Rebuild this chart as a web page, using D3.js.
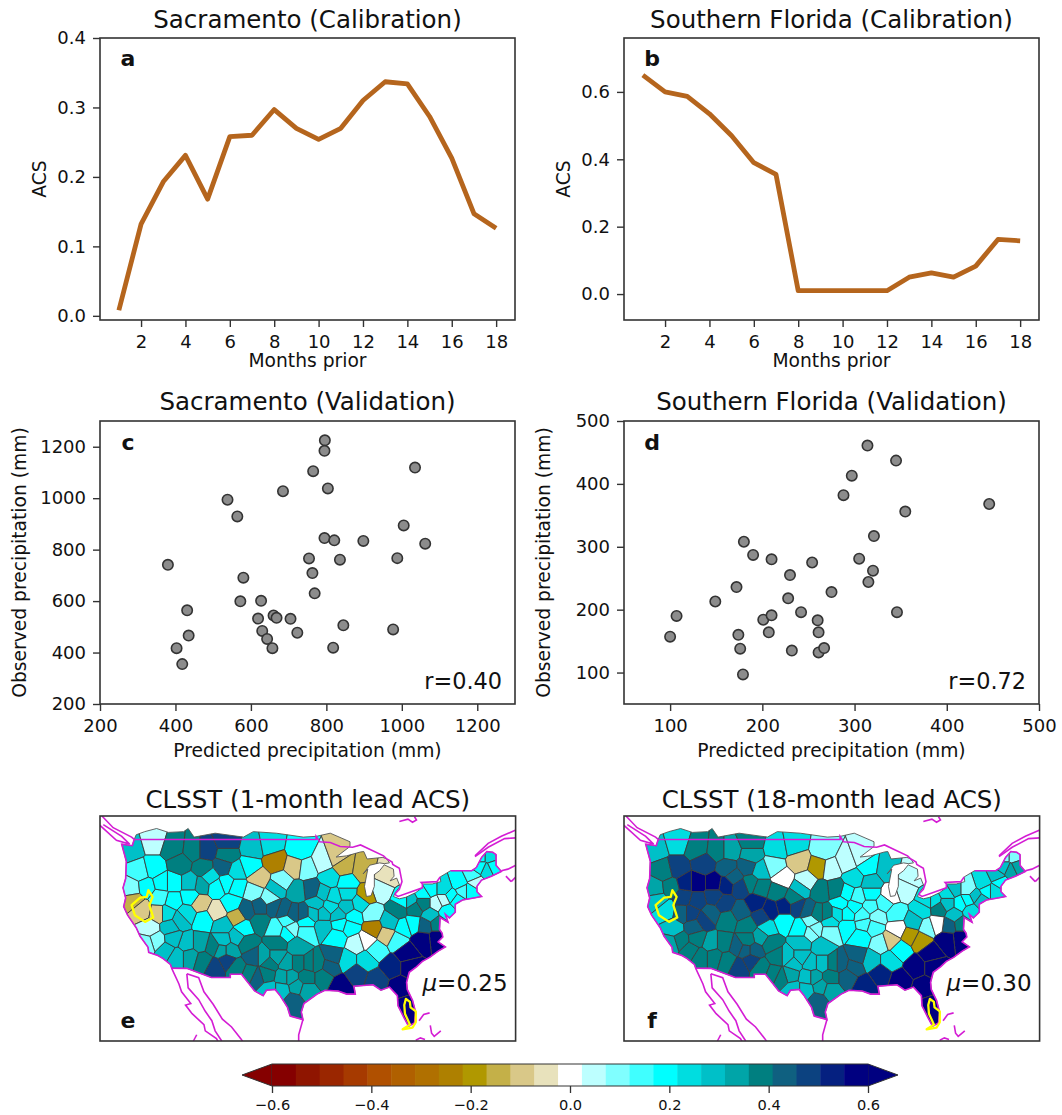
<!DOCTYPE html>
<html>
<head>
<meta charset="utf-8">
<script src="https://cdn.jsdelivr.net/npm/d3@7"></script>
<style>
  body { margin: 0; background: #fff; }
  text { font-family: "DejaVu Sans", sans-serif; fill: #111; }
</style>
</head>
<body>
<svg id="fig" width="1062" height="1115"></svg>
<script>
// ---- line panels
const months = d3.range(1, 19);
const acsSacramento = [0.008, 0.132, 0.193, 0.231, 0.168, 0.258, 0.26, 0.297, 0.27, 0.254, 0.27, 0.31, 0.337, 0.334, 0.287, 0.227, 0.147, 0.126];
const acsFlorida = [0.65, 0.6, 0.587, 0.535, 0.47, 0.39, 0.355, 0.01, 0.01, 0.01, 0.01, 0.01, 0.05, 0.063, 0.05, 0.083, 0.162, 0.158];

// ---- scatter panels
const sacPredicted = [380, 431, 435, 403, 418, 538, 564, 580, 572, 627, 619, 660, 668, 705, 723, 630, 643, 657, 685, 765, 796, 795, 804, 795, 821, 898, 754, 836, 763, 769, 845, 818, 977, 988, 1005, 1062, 1035];
const sacObserved = [741, 564, 466, 417, 355, 994, 929, 691, 599, 601, 532, 544, 535, 531, 477, 484, 453, 417, 1027, 1105, 1225, 1184, 1038, 845, 836, 834, 766, 761, 709, 630, 506, 419, 490, 767, 894, 823, 1119];
const flaPredicted = [100, 107, 149, 172, 180, 190, 210, 174, 176, 179, 201, 210, 207, 230, 228, 242, 232, 254, 260, 261, 261, 267, 275, 288, 297, 314, 305, 320, 315, 321, 345, 355, 346, 446];
const flaObserved = [157, 190, 213, 236, 308, 287, 280, 160, 138, 97, 184, 191, 164, 255, 218, 196, 135, 275, 183, 164, 132, 139, 228, 382, 413, 461, 281, 262, 244, 317, 437, 356, 196, 368];

// ---- colour bar
const barColors = ["#850000", "#8f1500", "#9a2600", "#a63a00", "#b05000", "#b06000", "#b07000", "#ae8000", "#b09800", "#c4b048", "#d9c888", "#e8e2bc", "#ffffff", "#bdffff", "#80ffff", "#40ffff", "#00ffff", "#00dde0", "#00c0c8", "#00a5a8", "#007f80", "#0f6080", "#0c4280", "#052080", "#000080"];
const barTicks = [-0.6, -0.4, -0.2, 0, 0.2, 0.4, 0.6];

// ---- basin centres (lon, lat) and ACS
const basinLon = [-123.2, -119.9, -121.9, -119.9, -123.2, -116.9, -116.9, -115.8, -113.8, -111.8, -108.75, -108.75, -112.3, -109.3, -112.55, -107.2, -108.75, -104.7, -102.2, -97.6, -105.2, -101.4, -98.4, -103.9, -100.4, -96.6, -94.1, -92, -91, -93, -88, -84.4, -85.45, -87.5, -90.5, -94.1, -95.8, -98.1, -101.15, -104.7, -107.2, -102.2,
  -122.9, -121.7, -119.1, -116.9, -120.4, -115.8, -112.8, -114.3, -112.3, -110.2, -108, -107.2, -109.3, -106.2, -103.7, -100.1, -97.1, -103.7, -99.6, -96.6, -99.6, -95.1, -93, -90.5, -94.1, -91.5, -92, -89.5, -86.7, -89, -87.5, -86.5, -84.4, -86, -82.9, -81.9, -83.9, -82.7, -80.1, -78.6, -80.4, -76.8, -78.9, -74.6, -76.8, -73.3, -71.3, -71.8, -68.7, -69.2, -75.8, -71, -77.8, -81.9,
  -78.9, -76.8, -81.4, -83.7, -80.9, -82.4, -81.4, -86, -89, -91.5, -90.5, -87.5, -92.5, -95.1, -97.9, -101.15, -103.2, -99.6, -96.6, -100.1, -102.7, -104.7, -104.2, -98.6, -102.2, -98.1,
  -119.4, -117.4, -117.9, -114.8, -114.3, -110.8, -107.2, -108.2, -110.5, -108.75, -107.2, -112.3,
  -101.15, -97.9, -99.1, -96.1, -102.2, -105.2, -100.4, -96.6, -94.05, -93,
  -105.7, -101.65, -98.6, -99.1, -96.6, -101.15, -94.05, -91.8, -95.6, -88.5, -90.5, -92.5, -90,
  -80.9, -78.9, -77.8, -75.3, -73.8, -72.8, -70.25, -68.2, -70.25, -75.8,
  -120.9, -118.9, -118.6, -114.3, -110.3, -111.3, -114.8, -117.9, -120.9, -116.35, -112.8, -109.3, -116.9, -105.7, -109.5];
const basinLat = [47.9, 48.7, 44.9, 45.3, 42.7, 43.4, 47.9, 45.9, 47.6, 47.6, 48.7, 47, 45.3, 45.5, 43.15, 44.9, 43.4, 47.9, 48.3, 47.6, 45.5, 46.15, 45.5, 44, 43.6, 45.3, 46.15, 46.8, 45.5, 44, 45.1, 44.45, 42.5, 41.9, 43.4, 42.1, 42.5, 42.3, 42.7, 42.3, 42.9, 41.45,
  41.2, 39.95, 39.5, 41.2, 37.6, 38.7, 40.8, 41.7, 38.7, 39.75, 40.8, 39.1, 38, 37.6, 40.4, 39.95, 39.5, 38.45, 38.45, 38.45, 37.2, 40.8, 40.4, 40.4, 37.8, 38.2, 36.5, 39.1, 39.5, 35.7, 36.1, 37.6, 36.75, 34.8, 36.1, 37.8, 38.45, 39.95, 40.16, 38, 38.2, 40.8, 42.1, 41.7, 38.2, 43.4, 44.2, 42.5, 46.8, 45.1, 42.7, 43.6, 42.7, 41.2,
  36.1, 36.3, 34.4, 32.7, 32.7, 30.1, 27.6, 31, 31.8, 30.3, 33.5, 33.5, 34, 33.1, 35.25, 35.7, 34, 33.1, 31.4, 31.4, 31.8, 34, 31.4, 28.4, 29.7, 30.1,
  36.1, 37.8, 34.8, 35.7, 34, 35.25, 36.5, 34.8, 32.7, 33.5, 32.5, 33.5,
  33.97, 33.1, 31.4, 33.1, 33.1, 31.8, 29.7, 29.7, 31.4, 32.7,
  39.95, 40.4, 39.5, 37.6, 37.2, 37.6, 39.5, 39.3, 39.5, 40.8, 42.1, 41.65, 37.8,
  41.2, 40.8, 39.3, 39.95, 41.2, 42.5, 45.5, 45.5, 46.8, 41.2,
  42.9, 41.65, 43.4, 43.4, 42.9, 44.2, 39.5, 39.5, 35.7, 34, 35.7, 36.1, 36.3, 35.7, 34.8];
const acsLead1 = [0.3, 0.07, 0.15, 0.2, 0.08, 0.2, 0.38, 0.38, 0.38, 0.5, 0.5, 0.38, 0.38, 0.43, 0.34, 0.22, 0.2, 0.3, 0.25, 0.18, 0.2, -0.24, -0.1, -0.12, 0.1, 0.1, 0.05, -0.08, -0.14, 0.22, -0.16, -0.07, 0.07, -0.17, 0.2, 0.3, 0.45, 0.34, 0.3, 0.1, 0.18, 0.08,
  -0.14, -0.1, -0.1, 0.18, 0.07, 0.27, -0.12, 0.2, 0.18, -0.05, 0.2, -0.14, 0.28, 0.2, 0.45, 0.45, 0.45, 0.38, 0.12, 0.2, 0.2, 0.3, 0.22, 0.3, 0.28, 0.2, 0.2, 0.18, 0.1, 0.06, 0, -0.22, -0.12, 0.15, 0.12, 0.2, 0.3, 0.38, 0.4, 0.42, 0.2, 0.07, 0.2, 0.2, 0.38, 0.2, 0.15, 0.2, 0.24, 0.22, 0.24, 0.07, 0.2, 0.2,
  0.58, 0.58, 0.58, 0.55, 0.58, 0.58, 0.58, 0.48, 0.48, 0.58, 0.25, 0.24, 0.43, 0.38, 0.33, 0.38, 0.34, 0.34, 0.38, 0.34, 0.4, 0.43, 0.43, 0.45, 0.3, 0.34,
  0.1, 0.3, 0.28, 0.3, 0.34, 0.4, 0.28, 0.34, 0.5, 0.5, 0.38, 0.4,
  0.34, 0.38, 0.34, 0.38, 0.38, 0.4, 0.3, 0.34, 0.4, 0.43,
  0.45, 0.45, 0.45, 0.1, 0.15, 0.12, 0.3, 0.3, 0.28, 0.22, 0.25, 0.25, 0.2,
  0.3, 0.4, 0.3, 0.2, 0.2, 0.12, 0.2, 0.2, 0.2, 0.07,
  0.2, 0.15, 0.2, 0.3, 0.2, 0.24, 0.25, 0.25, 0.1, 0.3, 0.34, 0.3, 0.3, 0.4, 0.34];
const acsLead18 = [0.3, 0.22, 0.38, 0.5, 0.34, 0.58, 0.38, 0.48, 0.38, 0.34, 0.38, 0.34, 0.43, 0.43, 0.55, 0.3, 0.38, 0.24, 0.22, 0.08, 0.08, -0.12, -0.18, 0, 0.07, 0.05, 0.07, 0.07, 0.2, 0.26, 0.3, 0.07, 0.05, 0, 0.28, 0.18, 0.38, 0.38, 0.3, 0.38, 0.38, 0.38,
  0.3, 0.25, 0.45, 0.5, 0.3, 0.5, 0.48, 0.48, 0.38, 0.43, 0.55, 0.5, 0.4, 0.22, 0.55, 0.42, 0.38, 0.18, 0.08, 0.22, 0.1, 0.2, 0.17, 0.15, 0.18, 0.14, 0.18, 0.1, 0.12, 0.08, -0.12, 0, -0.2, 0.17, -0.18, 0.08, 0.28, 0.25, 0.38, 0.42, 0, 0.2, 0.22, 0.28, 0.38, 0.24, 0.28, 0.25, 0.08, 0.35, 0.08, 0.2, 0.3, 0.22,
  0.58, 0.58, 0.58, 0.58, 0.58, 0.58, 0.58, 0.58, 0.55, 0.53, 0.3, 0.22, 0.43, 0.43, 0.28, 0.3, 0.3, 0.3, 0.38, 0.3, 0.34, 0.38, 0.38, 0.43, 0.3, 0.33,
  0.38, 0.45, 0.38, 0.34, 0.4, 0.43, 0.34, 0.43, 0.48, 0.48, 0.38, 0.4,
  0.3, 0.3, 0.33, 0.38, 0.3, 0.38, 0.3, 0.34, 0.43, 0.43,
  0.55, 0.5, 0.38, 0.08, 0.1, 0.2, 0.2, 0.15, 0.25, 0.12, 0.2, 0.15, 0.12,
  0.25, 0.3, 0.3, 0.25, 0.28, 0.2, 0.3, 0.35, 0.1, 0.2,
  0.4, 0.5, 0.55, 0.58, 0.5, 0.45, 0.45, 0.48, 0.34, 0.38, 0.4, 0.38, 0.4, 0.38, 0.45];

// ---- outlines (lon, lat)
const northEdge = [[-122.8, 49], [-122.5, 49.6], [-121.2, 50], [-119.4, 50.4], [-117.6, 49.9], [-115.3, 50], [-114.6, 50.4], [-113.7, 49.3], [-110.5, 49.8], [-106.2, 49.3], [-104.7, 50], [-101.2, 49.8], [-97.1, 49.3], [-95.1, 49.4], [-93, 49.8], [-90, 48.7]];
const lakeShore = [[-90, 48.1], [-92.1, 46.75], [-90.5, 46.9], [-88.4, 47.4], [-87.9, 47.45], [-87.4, 46.5], [-85, 46.7], [-84.4, 46.5], [-84, 46], [-84.8, 45.9], [-85.5, 46], [-87, 45.7], [-88, 44.6], [-87.3, 45.2], [-87.8, 43], [-87.5, 41.7], [-86.8, 41.8], [-86.3, 43], [-86.3, 44.5], [-85.5, 45], [-84.8, 45.75], [-83.4, 45.2], [-83.3, 44.3], [-83.9, 43.7], [-82.9, 44.05], [-82.4, 43], [-83.1, 42.2], [-83.4, 41.7], [-82.5, 41.4], [-81.5, 41.6], [-80, 42.2], [-78.9, 42.9], [-79, 43.3], [-77.5, 43.3], [-76.2, 43.6], [-76.3, 44.2]];
const lakeBorder = [[-122.8, 49], [-95.15, 49], [-95.15, 49.4], [-94.6, 48.7], [-93, 48.6], [-91.5, 48.1], [-89.6, 48], [-88.4, 48.3], [-84.9, 46.9], [-84.4, 46.5], [-83.6, 46.1], [-83.5, 45.8], [-82.5, 45.3], [-82.1, 43.6], [-82.5, 42.6], [-83.1, 42.1], [-83.1, 41.9], [-82.7, 41.7], [-79, 42.8], [-79, 43.3], [-79.2, 43.5], [-76.8, 43.6], [-76.3, 44.2]];
const eastBorder = [[-74.7, 45], [-71.5, 45], [-70.8, 45.4], [-70, 46.7], [-69.2, 47.45], [-68.3, 47.35], [-67.8, 47.05], [-67.8, 45.7], [-67, 44.9], [-68.5, 44.3], [-70, 43.8], [-70.7, 43], [-70.7, 42.3], [-70, 41.7], [-71.2, 41.5], [-72.9, 41.25], [-74, 40.7], [-74, 39.7], [-74.9, 38.95], [-75.5, 39.4], [-75.1, 38.4], [-76.3, 39], [-76.4, 37.5], [-76, 37], [-75.9, 36.5], [-76.6, 35.9], [-75.5, 35.25], [-76.6, 34.7], [-77.9, 33.9], [-79, 33.4], [-79.9, 32.7], [-81, 32], [-81.4, 30.7], [-81.3, 29.8], [-80.5, 28.4], [-80, 26.8], [-80.2, 25.5], [-81.1, 25.1], [-81.8, 26.2], [-82.7, 27.7], [-82.8, 29], [-84, 30.1], [-85.3, 29.7], [-86.5, 30.4], [-88, 30.3], [-89.4, 30.2], [-89.2, 29.2], [-90.5, 29.2], [-91.8, 29.6], [-93.8, 29.7], [-95, 29.2], [-97, 28], [-97.4, 26.9], [-97.15, 25.95], [-99.1, 26.4], [-99.5, 27.5], [-100.7, 29.1], [-101.4, 29.8], [-102.7, 29.7], [-103.2, 29], [-104.5, 29.6], [-106.5, 31.75], [-108.2, 31.75], [-108.2, 31.33], [-111.07, 31.33], [-114.8, 32.5], [-117.1, 32.53], [-117.3, 33], [-118.4, 33.75], [-119.2, 34.15], [-120.6, 34.55], [-120.7, 35.2], [-121.9, 36.6], [-122.5, 37.7], [-123.8, 39.3], [-124.4, 40.4], [-124.1, 41.5], [-124.5, 42.8], [-124.1, 44], [-124, 46.2], [-124.7, 48.4], [-123.1, 48.2], [-122.8, 49]];
const otherCoasts = [
  [[-117.1, 32.5], [-116, 30.5], [-115.6, 29.5], [-114.2, 28], [-115, 27.8], [-114, 26.7], [-112.2, 25.3], [-112, 24.5], [-110.3, 23.5], [-109.9, 22.9]],
  [[-114.8, 31.8], [-114.6, 30], [-113, 28.5], [-112, 27], [-111, 25.8], [-110.5, 24.5], [-109.5, 23.2]],
  [[-114.8, 31.8], [-113, 31.3], [-112.2, 29.5], [-110.8, 27.9], [-109.4, 26], [-108, 25], [-106.6, 23.5], [-105.8, 22.5]],
  [[-97.15, 25.95], [-97.8, 24], [-97.8, 22.5]],
  [[-128, 50.8], [-125.5, 48.9], [-123.5, 48.4], [-124.7, 49.4], [-127.5, 50.9]],
  [[-127.7, 52], [-126, 50.5], [-123.2, 49.3], [-122.8, 49]],
  [[-82.5, 51.3], [-81.2, 51.6], [-80.5, 51.2], [-79.9, 51.5], [-80.2, 51.9]],
  [[-71, 46.8], [-69, 48], [-66.5, 49.1], [-64.8, 49.2]],
  [[-71, 46.9], [-69, 48.5], [-67, 49.4], [-64.8, 50.2]],
  [[-67, 45], [-66, 45.2], [-64.8, 45.7]],
  [[-65.5, 43.6], [-64.8, 44.2]],
  [[-66.3, 44.3], [-65.5, 43.6]],
  [[-79.5, 25.8], [-78.8, 26.6], [-77.9, 26.8]],
  [[-77.8, 25.2], [-77.6, 24.2], [-77.2, 23.8], [-76.2, 24.5]],
  [[-80, 23.3], [-79.3, 23.6], [-78.6, 23.4]],
  [[-113.8, 23.2], [-113.3, 24]]
];
const sacramentoOutline = [[-120.65, 42.5], [-120, 41.65], [-120.5, 40.6], [-119.9, 39], [-121.15, 38.45], [-122.7, 39.3], [-123.2, 40.6], [-121.9, 41.55], [-120.9, 41.65]];
const floridaOutline = [[-81.5, 28.6], [-80.9, 28.2], [-80.8, 27.5], [-80, 27], [-80, 25.6], [-80.5, 24.9], [-82, 24.7], [-80.9, 25.3], [-81.65, 26.7], [-81.75, 27.8]];

const svg = d3.select("#fig");
const ink = "#333";

function frame(box) {
  svg.append("rect")
    .attr("x", box.x0).attr("y", box.y0)
    .attr("width", box.x1 - box.x0).attr("height", box.y1 - box.y0)
    .attr("fill", "none").attr("stroke", ink).attr("stroke-width", 1.6);
}

function title(box, text, gap) {
  svg.append("text")
    .attr("x", (box.x0 + box.x1) / 2).attr("y", box.y0 - gap)
    .attr("text-anchor", "middle").attr("font-size", 24.5)
    .text(text);
}

function panelLetter(x, y, text) {
  svg.append("text").attr("x", x).attr("y", y)
    .attr("font-size", 22).attr("font-weight", "bold").attr("text-anchor", "middle")
    .text(text);
}

function axes(box, xScale, yScale, xTicks, yTicks, xLabel, yLabel, yFormat, xLabelY, yLabelX) {
  const xAxis = d3.axisBottom(xScale).tickValues(xTicks).tickSizeOuter(0).tickSize(7).tickPadding(8).tickFormat(d3.format("d"));
  const yAxis = d3.axisLeft(yScale).tickValues(yTicks).tickSizeOuter(0).tickSize(7).tickPadding(7).tickFormat(yFormat);
  const gx = svg.append("g").attr("transform", `translate(0,${box.y1})`).call(xAxis);
  const gy = svg.append("g").attr("transform", `translate(${box.x0},0)`).call(yAxis);
  [gx, gy].forEach(g => {
    g.select(".domain").remove();
    g.selectAll("line").attr("stroke", ink).attr("stroke-width", 1.4);
    g.selectAll("text").attr("font-size", 18).attr("font-family", '"DejaVu Sans", sans-serif');
  });
  svg.append("text").attr("x", (box.x0 + box.x1) / 2).attr("y", xLabelY)
    .attr("text-anchor", "middle").attr("font-size", 18.7).text(xLabel);
  svg.append("text")
    .attr("transform", `translate(${yLabelX},${(box.y0 + box.y1) / 2}) rotate(-90)`)
    .attr("text-anchor", "middle").attr("font-size", 18.7).text(yLabel);
}

function linePanel(box, series, yDomain, yTicks, titleText, letter) {
  const x = d3.scaleLinear().domain([0.15, 18.85]).range([box.x0, box.x1]);
  const y = d3.scaleLinear().domain(yDomain).range([box.y1, box.y0]);
  const line = d3.line().x((d, i) => x(months[i])).y(d => y(d));
  svg.append("path").datum(series).attr("d", line)
    .attr("fill", "none").attr("stroke", "#b5651d").attr("stroke-width", 4.8).attr("stroke-linejoin", "round");
  frame(box);
  axes(box, x, y, d3.range(2, 19, 2), yTicks, "Months prior", "ACS", d3.format(".1f"), box.y1 + 47, box.x0 - 54);
  title(box, titleText, 10.5);
  panelLetter(box.x0 + 28, box.y0 + 28, letter);
}

function scatterPanel(box, xs, ys, xDomain, yDomain, xTicks, yTicks, titleText, letter, rText) {
  const x = d3.scaleLinear().domain(xDomain).range([box.x0, box.x1]);
  const y = d3.scaleLinear().domain(yDomain).range([box.y1, box.y0]);
  svg.append("g").selectAll("circle").data(xs).join("circle")
    .attr("cx", d => x(d)).attr("cy", (d, i) => y(ys[i])).attr("r", 5.2)
    .attr("fill", "#8c8c8c").attr("stroke", "#333").attr("stroke-width", 1.6);
  frame(box);
  axes(box, x, y, xTicks, yTicks, "Predicted precipitation (mm)", "Observed precipitation (mm)", d3.format("d"), box.y1 + 53, box.x0 - 74);
  title(box, titleText, 11);
  panelLetter(box.x0 + 28, box.y0 + 29, letter);
  svg.append("text").attr("x", box.x1 - 13).attr("y", box.y1 - 15)
    .attr("text-anchor", "end").attr("font-size", 22.4).text(rText);
}

const colorOf = d3.scaleQuantize().domain([-0.6, 0.6]).range(barColors);
const defs = svg.append("defs");
defs.append("filter").attr("id", "soft")
  .append("feGaussianBlur").attr("stdDeviation", 0.45);

function mapPanel(box, values, id, titleText, letter, muValue) {
  const lon = d3.scaleLinear().domain([-128, -64.83]).range([box.x0, box.x1]);
  const lat = d3.scaleLinear().domain([23.2, 52]).range([box.y1, box.y0]);
  const line = d3.line().x(d => lon(d[0])).y(d => lat(d[1]));
  const maskPts = [...northEdge, ...lakeShore, ...eastBorder.slice(0, -1)];

  defs.append("clipPath").attr("id", "basins-" + id)
    .append("path").attr("d", line(maskPts) + "Z");
  defs.append("clipPath").attr("id", "frame-" + id)
    .append("rect").attr("x", box.x0).attr("y", box.y0)
    .attr("width", box.x1 - box.x0).attr("height", box.y1 - box.y0);

  const delaunay = d3.Delaunay.from(basinLon, (d, i) => lon(d), (d, i) => lat(basinLat[i]));
  const voronoi = delaunay.voronoi([box.x0, box.y0, box.x1, box.y1]);

  const g = svg.append("g").attr("clip-path", `url(#frame-${id})`);
  const soft = g.append("g").attr("filter", "url(#soft)");
  soft.append("g").attr("clip-path", `url(#basins-${id})`)
    .selectAll("path").data(values).join("path")
    .attr("d", (d, i) => voronoi.renderCell(i))
    .attr("fill", d => colorOf(d))
    .attr("stroke", "#3c3c3c").attr("stroke-width", 0.9);
  soft.append("path").attr("d", line(maskPts) + "Z")
    .attr("fill", "none").attr("stroke", "#555").attr("stroke-width", 0.9);

  const magenta = g.append("g").attr("fill", "none").attr("stroke", "#d41fd4").attr("stroke-width", 1.6).attr("filter", "url(#soft)");
  magenta.append("path").attr("d", line(lakeBorder));
  magenta.append("path").attr("d", line(eastBorder));
  magenta.selectAll(".coast").data(otherCoasts).join("path").attr("class", "coast").attr("d", line);

  [sacramentoOutline, floridaOutline].forEach(o => {
    g.append("path").attr("d", line(o) + "Z")
      .attr("fill", "none").attr("stroke", "#ffff00").attr("stroke-width", 2.3).attr("stroke-linejoin", "round");
  });

  frame(box);
  title(box, titleText, 8);
  panelLetter(box.x0 + 28, box.y1 - 13, letter);

  const mu = svg.append("text").attr("x", box.x1 - 8).attr("y", box.y1 - 50)
    .attr("text-anchor", "end").attr("font-size", 23);
  mu.append("tspan").attr("font-style", "italic").text("\u03bc");
  mu.append("tspan").text("=" + muValue);
}

linePanel({ x0: 100, x1: 515, y0: 38, y1: 320 }, acsSacramento, [-0.006, 0.4], [0, 0.1, 0.2, 0.3, 0.4], "Sacramento (Calibration)", "a");
linePanel({ x0: 624, x1: 1039, y0: 38, y1: 320 }, acsFlorida, [-0.077, 0.76], [0, 0.2, 0.4, 0.6], "Southern Florida (Calibration)", "b");
scatterPanel({ x0: 100, x1: 515, y0: 421, y1: 704 }, sacPredicted, sacObserved, [200, 1300], [200, 1300], d3.range(200, 1201, 200), d3.range(200, 1201, 200), "Sacramento (Validation)", "c", "r=0.40");
scatterPanel({ x0: 624, x1: 1039, y0: 421, y1: 704 }, flaPredicted, flaObserved, [50, 500], [50, 500], d3.range(100, 501, 100), d3.range(100, 501, 100), "Southern Florida (Validation)", "d", "r=0.72");
mapPanel({ x0: 100, x1: 515.6, y0: 816, y1: 1041 }, acsLead1, "e", "CLSST (1-month lead ACS)", "e", "0.25");
mapPanel({ x0: 624, x1: 1039.6, y0: 816, y1: 1041 }, acsLead18, "f", "CLSST (18-month lead ACS)", "f", "0.30");

// colour bar
const barBox = { x0: 272, x1: 868, y0: 1064, y1: 1086 };
const barX = d3.scaleLinear().domain([-0.6, 0.6]).range([barBox.x0, barBox.x1]);
const tipY = (barBox.y0 + barBox.y1) / 2;
svg.append("path").attr("d", `M${barBox.x0},${barBox.y0}L242,${tipY}L${barBox.x0},${barBox.y1}Z`)
  .attr("fill", barColors[0]).attr("stroke", ink);
svg.append("path").attr("d", `M${barBox.x1},${barBox.y0}L898,${tipY}L${barBox.x1},${barBox.y1}Z`)
  .attr("fill", barColors[barColors.length - 1]).attr("stroke", ink);
svg.append("g").selectAll("rect").data(barColors).join("rect")
  .attr("x", d => barX(colorOf.invertExtent(d)[0]))
  .attr("y", barBox.y0)
  .attr("width", d => barX(colorOf.invertExtent(d)[1]) - barX(colorOf.invertExtent(d)[0]) + 0.5)
  .attr("height", barBox.y1 - barBox.y0)
  .attr("fill", d => d);
svg.append("line").attr("x1", barBox.x0).attr("x2", barBox.x1).attr("y1", barBox.y0).attr("y2", barBox.y0).attr("stroke", ink);
svg.append("line").attr("x1", barBox.x0).attr("x2", barBox.x1).attr("y1", barBox.y1).attr("y2", barBox.y1).attr("stroke", ink);
const barAxis = d3.axisBottom(barX).tickValues(barTicks).tickSizeOuter(0).tickSize(7).tickPadding(7)
  .tickFormat(d => d3.format(".1f")(d).replace("-", "\u2212"));
const gBar = svg.append("g").attr("transform", `translate(0,${barBox.y1})`).call(barAxis);
gBar.select(".domain").remove();
gBar.selectAll("line").attr("stroke", ink).attr("stroke-width", 1.3);
gBar.selectAll("text").attr("font-size", 14.6).attr("font-family", '"DejaVu Sans", sans-serif');
</script>
</body>
</html>
